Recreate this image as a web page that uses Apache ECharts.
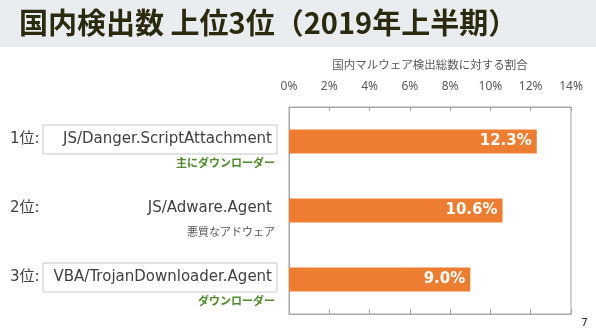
<!DOCTYPE html>
<html>
<head>
<meta charset="utf-8">
<script src="https://cdn.jsdelivr.net/npm/echarts@6/dist/echarts.min.js"></script>
<style>
html,body{margin:0;padding:0;background:#fff;}
#chart{width:596px;height:335px;}
</style>
</head>
<body>
<div id="chart"></div>
<script>
const titleText = '国内検出数 上位3位（2019年上半期）';
const axisTitle = '国内マルウェア検出総数に対する割合';
const ranks = ['1位:', '2位:', '3位:'];
const names = ['JS/Danger.ScriptAttachment', 'JS/Adware.Agent', 'VBA/TrojanDownloader.Agent'];
const notes = ['主にダウンローダー', '悪質なアドウェア', 'ダウンローダー'];
const shares = [12.3, 10.6, 9.0];
const xTicks = [0, 2, 4, 6, 8, 10, 12, 14];
const pageNo = '7';

const chart = echarts.init(document.getElementById('chart'), null, {renderer: 'canvas'});
const boxedRows = new Set([0, 2]);
const greenNotes = new Set([0, 2]);
const baseFont = '"DejaVu Sans", "Noto Sans CJK JP", sans-serif';
const cjkFont = '"Noto Sans CJK JP", sans-serif';

const option = {
  animation: false,
  backgroundColor: '#ffffff',
  graphic: [
    {type: 'rect', left: 0, top: 0, shape: {width: 596, height: 47}, style: {fill: '#e9edf0'}, z: -1},
    {type: 'text', left: 19, top: 8, style: {text: titleText, fontSize: 29, fontWeight: 'bold', fill: '#2c2a0e', fontFamily: cjkFont}},
    {type: 'text', right: 8, top: 318, style: {text: pageNo, fontSize: 11, fill: '#333', fontFamily: baseFont}}
  ],
  grid: {left: 289, right: 25, top: 107, bottom: 21, show: true, borderColor: '#a6a6a6', borderWidth: 1, backgroundColor: 'transparent'},
  xAxis: [
    {
      type: 'value', position: 'top', min: xTicks[0], max: xTicks[xTicks.length - 1], interval: xTicks[1] - xTicks[0],
      name: axisTitle, nameLocation: 'middle', nameGap: 37,
      nameTextStyle: {fontSize: 11.5, color: '#595959', fontFamily: cjkFont},
      axisLine: {show: true, lineStyle: {color: '#a6a6a6'}},
      axisTick: {show: true, inside: true, length: 4, lineStyle: {color: '#a6a6a6'}},
      axisLabel: {formatter: '{value}%', margin: 14, fontSize: 12, color: '#595959', fontFamily: '"Noto Sans", sans-serif'},
      splitLine: {show: false}
    },
    {
      type: 'value', position: 'bottom', min: xTicks[0], max: xTicks[xTicks.length - 1], interval: xTicks[1] - xTicks[0],
      axisLine: {show: true, lineStyle: {color: '#a6a6a6'}},
      axisTick: {show: true, inside: true, length: 5, lineStyle: {color: '#a6a6a6'}},
      axisLabel: {show: false},
      splitLine: {show: false}
    }
  ],
  yAxis: {
    type: 'category', inverse: true, data: names,
    axisLine: {show: true, lineStyle: {color: '#a6a6a6'}},
    axisTick: {show: false},
    axisLabel: {
      margin: 12,
      formatter: function (v, i) {
        const box = boxedRows.has(i) ? 'box' : 'nobox';
        const sub = greenNotes.has(i) ? 'subG' : 'subN';
        return '{pad| }\n{rank|' + ranks[i] + '}{' + box + '|' + names[i] + '}\n{' + sub + '|' + notes[i] + '}';
      },
      rich: {
        pad: {fontSize: 8, lineHeight: 14, align: 'right'},
        rank: {width: 33, align: 'left', fontSize: 15, color: '#404040', fontFamily: baseFont},
        box: {width: 229, height: 29, align: 'right', padding: [0, 5, 0, 0], borderColor: '#c6c6c6', borderWidth: 1, fontSize: 15, color: '#404040', fontFamily: baseFont},
        nobox: {width: 229, height: 29, align: 'right', padding: [0, 5, 0, 0], fontSize: 15, color: '#404040', fontFamily: baseFont},
        subG: {align: 'right', fontSize: 11, lineHeight: 18, padding: [0, 2, 0, 0], color: '#4f8a2c', fontWeight: 'bold', fontFamily: cjkFont},
        subN: {align: 'right', fontSize: 11, lineHeight: 18, padding: [0, 2, 0, 0], color: '#595959', fontFamily: cjkFont}
      }
    }
  },
  series: [{
    type: 'bar', xAxisIndex: 0, data: shares, barWidth: 24,
    itemStyle: {color: '#ed7d31'},
    label: {show: true, position: 'insideRight', distance: 5, formatter: p => p.value.toFixed(1) + '%', color: '#fff', fontSize: 15, fontWeight: 'bold', fontFamily: baseFont}
  }]
};
chart.setOption(option);
</script>
</body>
</html>
